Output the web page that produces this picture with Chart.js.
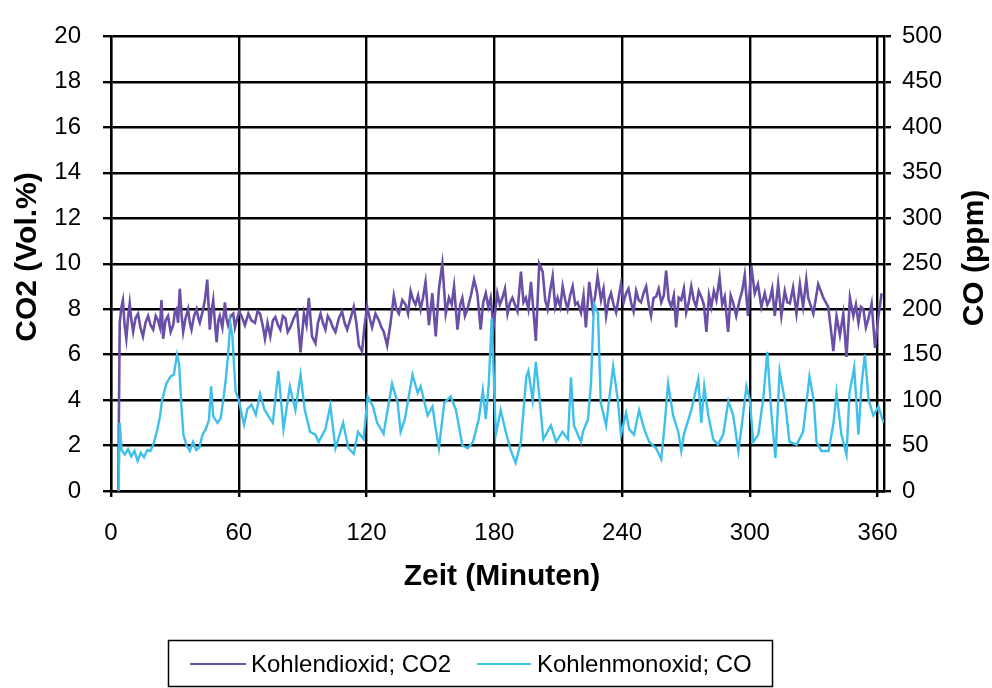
<!DOCTYPE html>
<html>
<head>
<meta charset="utf-8">
<script src="https://cdn.jsdelivr.net/npm/chart.js@4.4.1/dist/chart.umd.min.js"></script>
<style>
  html, body { margin: 0; padding: 0; background: #ffffff; }
  #c { display: block; }
</style>
</head>
<body>
<canvas id="c" width="992" height="688" style="width:992px;height:688px"></canvas>
<script>
// ---- Data ----
const seriesLabels = ['Kohlendioxid; CO2', 'Kohlenmonoxid; CO'];
const axisTitles = { x: 'Zeit (Minuten)', left: 'CO2 (Vol.%)', right: 'CO (ppm)' };

const co2Minutes = [3.4, 4.1, 4.9, 5.6, 6.4, 7.2, 8.0, 8.8, 9.6, 10.4, 11.5, 12.7, 13.8, 15.0, 16.2, 17.4, 18.6, 19.8, 21.0, 22.1, 23.0, 23.7, 24.5, 25.6, 26.8, 28.0, 29.2, 30.0, 30.7, 31.5, 32.3, 33.1, 33.9, 35.0, 36.2, 37.0, 37.8, 39.0, 40.2, 41.0, 41.7, 43.0, 44.1, 45.2, 46.4, 47.2, 48.0, 48.8, 49.6, 50.4, 51.1, 52.3, 53.5, 54.2, 55.0, 56.2, 57.4, 58.2, 59.0, 60.2, 61.3, 62.9, 64.5, 66.0, 67.6, 68.8, 70.0, 71.2, 72.3, 73.5, 74.8, 76.0, 77.2, 78.4, 79.5, 80.7, 81.9, 83.0, 84.2, 85.8, 87.4, 89.0, 90.6, 91.8, 92.9, 94.4, 96.0, 97.2, 98.4, 99.5, 100.7, 101.8, 103.0, 104.2, 105.4, 107.0, 108.5, 109.7, 110.9, 112.5, 114.0, 115.2, 116.4, 117.9, 119.1, 120.3, 121.5, 122.6, 124.2, 125.8, 127.0, 128.1, 129.7, 131.3, 132.8, 134.0, 135.2, 136.8, 138.3, 139.5, 140.7, 141.9, 143.0, 144.2, 145.4, 146.5, 147.7, 149.3, 150.9, 152.5, 154.0, 155.6, 157.2, 158.7, 160.0, 161.1, 162.7, 164.0, 165.0, 166.2, 167.4, 169.0, 170.5, 172.0, 173.6, 174.8, 176.0, 177.2, 178.3, 179.6, 181.4, 182.6, 183.8, 185.0, 186.2, 187.4, 188.5, 189.7, 190.9, 192.5, 193.7, 194.8, 196.0, 197.2, 198.4, 199.5, 201.1, 202.7, 203.9, 205.0, 206.2, 207.4, 208.6, 209.7, 211.0, 212.1, 213.3, 214.4, 215.6, 216.8, 218.0, 219.1, 220.7, 221.9, 223.0, 224.6, 226.2, 227.4, 228.5, 230.1, 231.3, 232.5, 233.7, 234.8, 236.0, 237.2, 238.4, 239.5, 240.7, 241.9, 243.0, 244.2, 245.4, 246.6, 247.8, 248.9, 250.1, 251.3, 252.5, 253.6, 254.8, 256.0, 257.2, 258.4, 259.6, 260.7, 261.9, 263.1, 264.3, 265.4, 266.6, 267.8, 269.0, 270.1, 271.3, 272.5, 273.7, 274.8, 276.0, 277.2, 278.4, 279.6, 280.8, 281.9, 283.1, 284.3, 285.8, 287.0, 288.2, 289.8, 291.0, 292.1, 293.6, 295.2, 296.4, 297.6, 299.1, 300.7, 302.3, 303.8, 305.4, 307.0, 308.2, 309.3, 310.5, 311.7, 313.3, 314.8, 316.4, 317.6, 318.8, 320.3, 321.9, 323.5, 325.0, 326.5, 327.4, 329.8, 332.1, 334.5, 336.8, 338.4, 339.2, 340.7, 342.3, 343.9, 345.4, 347.0, 348.6, 349.8, 351.0, 352.2, 353.3, 354.5, 355.6, 357.2, 358.8, 360.4, 361.9];
const co2Values  = [0, 7.4, 8.1, 8.4, 7.3, 6.7, 7.6, 8.25, 7.5, 7.0, 7.6, 7.8, 7.2, 6.8, 7.4, 7.7, 7.3, 7.1, 7.7, 7.5, 7.2, 8.4, 6.7, 7.5, 7.7, 7.0, 7.3, 7.9, 8.0, 7.4, 8.9, 7.8, 7.0, 7.6, 8.0, 7.4, 7.1, 7.7, 8.0, 7.6, 7.4, 7.9, 8.4, 9.3, 7.1, 7.9, 8.4, 7.4, 6.55, 7.5, 7.7, 7.2, 8.3, 7.6, 7.3, 7.7, 7.8, 7.2, 7.5, 7.9, 7.7, 7.3, 7.8, 7.5, 7.4, 7.9, 7.8, 7.3, 6.7, 7.4, 6.8, 7.5, 7.65, 7.3, 7.1, 7.7, 7.6, 7.0, 7.2, 7.6, 7.9, 6.1, 7.8, 7.3, 8.5, 6.8, 6.5, 7.4, 7.8, 7.4, 7.1, 7.7, 7.5, 7.2, 7.0, 7.6, 7.9, 7.4, 7.1, 7.6, 8.1, 7.4, 6.4, 6.15, 7.3, 8.1, 7.6, 7.2, 7.8, 7.5, 7.2, 7.0, 6.4, 7.4, 8.6, 8.0, 7.8, 8.4, 8.2, 7.8, 8.8, 8.4, 8.2, 8.6, 8.0, 8.5, 9.2, 7.3, 8.7, 6.8, 8.9, 10.0, 7.8, 8.5, 8.2, 9.0, 7.1, 8.2, 8.5, 7.7, 8.0, 8.6, 9.3, 8.7, 7.1, 8.3, 8.7, 8.1, 8.5, 7.2, 8.7, 8.2, 8.5, 8.9, 7.8, 8.3, 8.5, 8.2, 7.9, 9.65, 8.3, 8.5, 8.0, 9.2, 7.9, 6.6, 10.0, 9.65, 8.4, 8.0, 8.8, 9.45, 8.1, 8.5, 8.1, 9.0, 8.4, 8.0, 8.6, 9.0, 8.2, 8.3, 7.85, 8.6, 7.2, 9.2, 8.0, 8.6, 9.45, 8.4, 8.9, 7.7, 8.4, 8.7, 8.2, 7.85, 8.5, 9.1, 8.3, 8.7, 8.9, 8.3, 7.9, 8.8, 8.4, 8.3, 8.7, 9.0, 8.2, 7.7, 8.5, 8.55, 8.9, 8.3, 8.6, 9.7, 8.4, 8.1, 8.6, 7.2, 8.5, 8.4, 8.9, 7.85, 8.3, 9.0, 8.4, 8.1, 8.8, 8.55, 8.2, 7.0, 8.6, 8.1, 8.8, 8.4, 9.4, 8.2, 8.55, 7.0, 8.6, 8.3, 7.7, 8.4, 8.8, 9.5, 7.7, 9.9, 8.7, 9.1, 8.1, 8.7, 8.2, 8.4, 8.9, 7.7, 9.1, 7.7, 8.8, 8.3, 8.25, 8.95, 7.8, 9.1, 8.1, 9.3, 8.5, 7.8, 9.1, 8.5, 8.1, 6.85, 6.15, 7.7, 6.85, 7.8, 5.9, 8.5, 7.7, 8.2, 7.4, 8.1, 8.0, 7.2, 7.55, 8.25, 6.3, 7.7, 8.7];

const coMinutes = [3.0, 3.6, 4.1, 5.0, 6.5, 8.0, 9.5, 11.0, 12.5, 14.0, 15.5, 17.0, 18.5, 20.0, 21.5, 23.0, 24.0, 26.0, 28.0, 29.5, 31.0, 32.0, 33.0, 34.0, 35.5, 37.0, 38.5, 40.0, 41.5, 43.0, 44.5, 46.0, 47.0, 48.0, 50.0, 51.5, 52.7, 54.0, 55.0, 56.0, 57.0, 58.5, 60.0, 61.5, 62.5, 64.0, 66.0, 68.0, 70.0, 72.0, 74.0, 76.0, 78.6, 81.0, 84.0, 86.6, 89.0, 91.0, 93.5, 96.0, 97.5, 100.7, 103.0, 105.4, 109.0, 111.5, 114.0, 116.0, 118.6, 120.5, 123.0, 125.0, 128.0, 132.0, 134.6, 136.0, 138.0, 141.6, 144.0, 145.4, 148.7, 151.0, 152.5, 154.0, 156.5, 159.5, 162.0, 165.0, 167.5, 170.0, 172.7, 174.6, 176.0, 177.4, 178.8, 180.7, 183.0, 185.4, 187.8, 190.0, 192.5, 195.0, 196.0, 198.0, 199.5, 201.0, 203.0, 206.6, 209.0, 212.0, 214.6, 216.0, 217.4, 220.7, 221.6, 224.0, 225.4, 226.8, 228.7, 230.0, 232.5, 235.8, 238.0, 239.5, 241.9, 243.3, 245.6, 248.0, 250.4, 252.7, 256.0, 258.4, 259.8, 261.6, 264.0, 266.4, 267.8, 269.0, 272.5, 275.8, 277.2, 278.6, 280.5, 282.8, 285.0, 287.5, 289.9, 292.2, 294.6, 296.0, 298.4, 300.0, 301.6, 304.0, 306.4, 308.2, 310.0, 312.0, 314.0, 316.6, 318.6, 322.0, 325.0, 328.0, 330.0, 331.3, 333.6, 337.0, 339.3, 340.7, 343.0, 345.4, 346.8, 349.0, 351.0, 352.5, 354.0, 355.8, 358.0, 360.4, 362.8];
const coValues  = [0, 0, 75, 45, 40, 46, 38, 44, 33, 42, 37, 45, 44, 52, 65, 82, 100, 118, 126, 128, 150, 140, 95, 62, 50, 44, 54, 45, 48, 62, 68, 78, 115, 82, 75, 80, 100, 125, 150, 185, 170, 110, 100, 83, 73, 90, 95, 84, 107, 90, 82, 75, 132, 68, 115, 89, 128, 89, 65, 62, 54, 68, 94, 47, 75, 47, 41, 65, 57, 104, 93, 75, 63, 118, 97, 65, 79, 128, 108, 115, 83, 93, 68, 47, 97, 104, 89, 50, 47, 54, 79, 111, 79, 118, 190, 62, 89, 65, 44, 31, 54, 125, 132, 100, 142, 108, 57, 72, 54, 65, 57, 125, 72, 54, 65, 79, 118, 206, 195, 97, 72, 137, 100, 62, 86, 68, 62, 89, 68, 54, 47, 35, 68, 118, 83, 65, 44, 62, 89, 123, 75, 115, 83, 57, 51, 62, 99, 83, 44, 68, 115, 100, 54, 62, 104, 153, 89, 36, 132, 97, 54, 51, 65, 126, 100, 54, 44, 44, 75, 108, 62, 40, 108, 136, 62, 118, 150, 100, 83, 93, 75];

const xTicks = [0, 60, 120, 180, 240, 300, 360];
const leftTicks = [0, 2, 4, 6, 8, 10, 12, 14, 16, 18, 20];
const rightTicks = [0, 50, 100, 150, 200, 250, 300, 350, 400, 450, 500];

// ---- Styling ----
const CO2_COLOR = '#6a4fa6';
const CO_COLOR = '#3fc0ea';
const FONT = "'Liberation Sans', Arial, Helvetica, sans-serif";
const tickFont = { family: FONT, size: 24 };

const pts = (xs, ys) => xs.map((m, i) => ({ x: m, y: ys[i] }));

const decorPlugin = {
  id: 'decor',
  afterDraw(chart) {
    const c = chart.ctx;
    c.save();
    c.fillStyle = '#000';
    c.font = 'bold 30px ' + FONT;
    c.textAlign = 'center';
    c.textBaseline = 'middle';
    c.fillText(axisTitles.x, 502, 577);
    c.save();
    c.translate(28, 257);
    c.rotate(-Math.PI / 2);
    c.fillText(axisTitles.left, 0, 0);
    c.restore();
    c.save();
    c.translate(975, 258);
    c.rotate(-Math.PI / 2);
    c.fillText(axisTitles.right, 0, 0);
    c.restore();

    // legend
    c.strokeStyle = '#000';
    c.lineWidth = 1.5;
    c.strokeRect(168.5, 640.5, 604, 46);
    c.lineWidth = 2;
    c.strokeStyle = CO2_COLOR;
    c.beginPath(); c.moveTo(190, 664); c.lineTo(246, 664); c.stroke();
    c.strokeStyle = CO_COLOR;
    c.beginPath(); c.moveTo(477, 664); c.lineTo(531, 664); c.stroke();
    c.font = '24px ' + FONT;
    c.textAlign = 'left';
    c.fillStyle = '#000';
    c.fillText(seriesLabels[0], 251, 665);
    c.fillText(seriesLabels[1], 537, 665);
    c.restore();
  }
};

new Chart(document.getElementById('c'), {
  type: 'line',
  data: {
    datasets: [
      { label: seriesLabels[0], data: pts(co2Minutes, co2Values), yAxisID: 'y',
        borderColor: CO2_COLOR, backgroundColor: CO2_COLOR, borderWidth: 2.6, pointRadius: 0, tension: 0, order: 1 },
      { label: seriesLabels[1], data: pts(coMinutes, coValues), yAxisID: 'y2',
        borderColor: CO_COLOR, backgroundColor: CO_COLOR, borderWidth: 2.4, pointRadius: 0, tension: 0, order: 0 }
    ]
  },
  options: {
    responsive: false,
    animation: false,
    events: [],
    layout: { padding: { top: 20, left: 0, right: 0, bottom: 0 } },
    plugins: { legend: { display: false }, tooltip: { enabled: false } },
    scales: {
      x: {
        type: 'linear', min: 0, max: 363,
        afterBuildTicks(s) { s.ticks = xTicks.map(v => ({ value: v })); },
        afterFit(s) { s.height = 688 - 491; },
        ticks: { font: tickFont, color: '#000', padding: 22, maxRotation: 0, autoSkip: false },
        grid: { color: '#000', lineWidth: 2.4, tickLength: 6 },
        border: { color: '#000', width: 2.4 }
      },
      y: {
        position: 'left', min: 0, max: 20,
        afterBuildTicks(s) { s.ticks = leftTicks.map(v => ({ value: v })); },
        afterFit(s) { s.width = 111; },
        ticks: { font: tickFont, color: '#000', padding: 22, autoSkip: false },
        grid: { color: '#000', lineWidth: 2.4, tickLength: 8 },
        border: { color: '#000', width: 2.4 }
      },
      y2: {
        position: 'right', min: 0, max: 500,
        afterBuildTicks(s) { s.ticks = rightTicks.map(v => ({ value: v })); },
        afterFit(s) { s.width = 992 - 884; },
        ticks: { font: tickFont, color: '#000', padding: 11, autoSkip: false },
        grid: { drawOnChartArea: false, color: '#000', lineWidth: 2.4, tickLength: 7 },
        border: { color: '#000', width: 2.4 }
      }
    }
  },
  plugins: [decorPlugin]
});
</script>
</body>
</html>
